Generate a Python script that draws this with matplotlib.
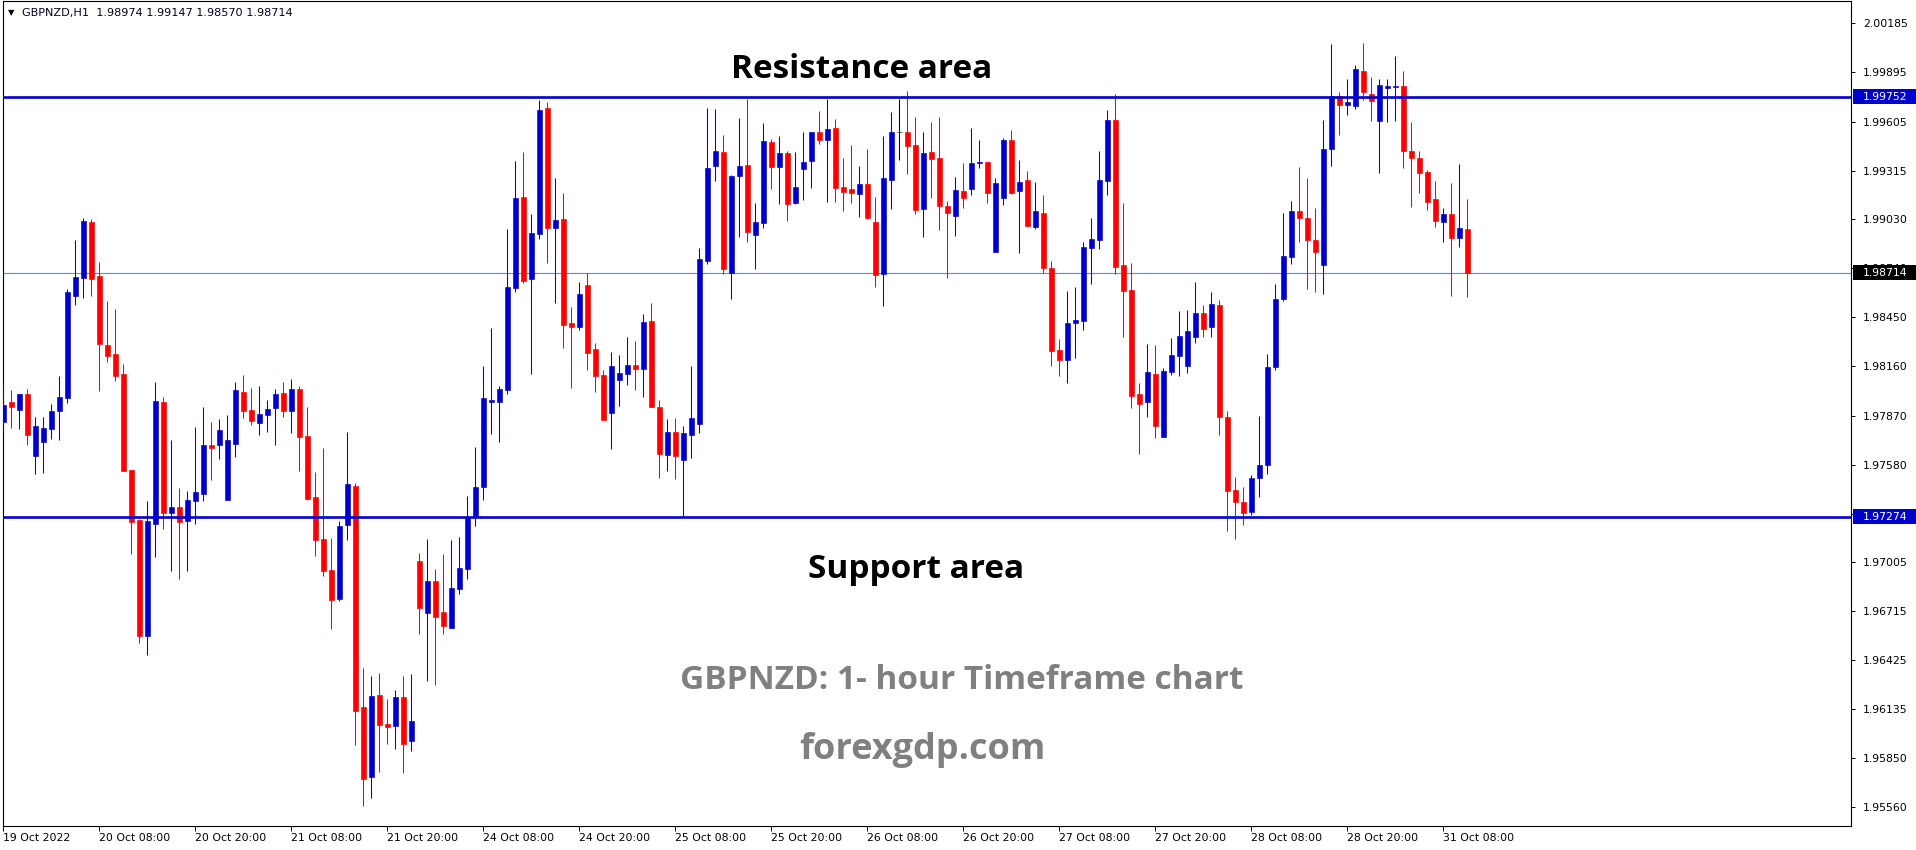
import matplotlib
matplotlib.use("Agg")
import matplotlib.pyplot as plt
from matplotlib.patches import Rectangle
import numpy as np

# GBPNZD H1 candles, 19 Oct 2022 20:00 .. 31 Oct 2022 11:00 (weekend skipped)
opens = [
    1.97832, 1.97948, 1.97901, 1.97995, 1.97630, 1.97712, 1.97789, 1.97895, 1.97972, 1.98574,
    1.98680, 1.99010, 1.98692, 1.98284, 1.98231, 1.98113, 1.97547, 1.97252, 1.96568, 1.97228,
    1.97948, 1.97293, 1.97329, 1.97246, 1.97364, 1.97405, 1.97694, 1.97694, 1.97370, 1.97700,
    1.98007, 1.97901, 1.97824, 1.97872, 1.97913, 1.98001, 1.97895, 1.98025, 1.97748, 1.97388,
    1.97140, 1.96957, 1.96786, 1.97223, 1.97453, 1.96149, 1.95736, 1.96220, 1.96049, 1.96037,
    1.96208, 1.95948, 1.97010, 1.96703, 1.96892, 1.96709, 1.96615, 1.96845, 1.96963, 1.97270,
    1.97447, 1.97948, 1.97948, 1.98019, 1.98621, 1.99158, 1.98674, 1.98939, 1.99683, 1.98975,
    1.99028, 1.98414, 1.98391, 1.98639, 1.98261, 1.98108, 1.97883, 1.98078, 1.98113, 1.98167,
    1.98143, 1.98426, 1.97919, 1.97635, 1.97771, 1.97606, 1.97754, 1.97818, 1.98780, 1.99341,
    1.99423, 1.98709, 1.99282, 1.99347, 1.98934, 1.99004, 1.99482, 1.99335, 1.99417, 1.99122,
    1.99323, 1.99370, 1.99541, 1.99494, 1.99565, 1.99217, 1.99205, 1.99175, 1.99234, 1.99010,
    1.98703, 1.99258, 1.99544, 1.99541, 1.99465, 1.99087, 1.99423, 1.99388, 1.99105, 1.99046,
    1.99193, 1.99205, 1.99358, 1.99364, 1.98833, 1.99152, 1.99494, 1.99193, 1.99258, 1.98981,
    1.99063, 1.98739, 1.98255, 1.98196, 1.98414, 1.98426, 1.98857, 1.98904, 1.99252, 1.99612,
    1.98757, 1.98609, 1.97995, 1.97948, 1.98113, 1.97742, 1.98125, 1.98220, 1.98161, 1.98332,
    1.98473, 1.98391, 1.98520, 1.97860, 1.97429, 1.97358, 1.97299, 1.97500, 1.97577, 1.98155,
    1.98556, 1.98804, 1.99075, 1.99034, 1.98904, 1.98757, 1.99441, 1.99754, 1.99706, 1.99700,
    1.99901, 1.99771, 1.99606, 1.99801, 1.99807, 1.99813, 1.99429, 1.99388, 1.99305, 1.99146,
    1.99010, 1.99057, 1.98916, 1.98974,
]
highs = [
    1.98049, 1.98019, 1.97995, 1.98025, 1.97860, 1.97860, 1.97936, 1.98102, 1.98615, 1.98904,
    1.99034, 1.99028, 1.98774, 1.98544, 1.98497, 1.98172, 1.97547, 1.97258, 1.97364, 1.98066,
    1.97978, 1.97724, 1.97441, 1.97423, 1.97801, 1.97919, 1.97830, 1.97848, 1.97872, 1.98066,
    1.98108, 1.98031, 1.98043, 1.97960, 1.98025, 1.98066, 1.98084, 1.98043, 1.97919, 1.97535,
    1.97677, 1.97146, 1.97246, 1.97771, 1.97470, 1.96379, 1.96332, 1.96349, 1.96196, 1.96249,
    1.96332, 1.96343, 1.97057, 1.97140, 1.96963, 1.97051, 1.97134, 1.97152, 1.97394, 1.97683,
    1.98161, 1.98385, 1.98043, 1.98969, 1.99370, 1.99423, 1.99057, 1.99730, 1.99718, 1.99270,
    1.99181, 1.98509, 1.98656, 1.98709, 1.98296, 1.98137, 1.98243, 1.98226, 1.98332, 1.98308,
    1.98467, 1.98532, 1.97960, 1.97848, 1.97854, 1.97807, 1.98161, 1.98857, 1.99683, 1.99677,
    1.99524, 1.99288, 1.99624, 1.99736, 1.99122, 1.99594, 1.99500, 1.99518, 1.99429, 1.99423,
    1.99541, 1.99541, 1.99665, 1.99736, 1.99618, 1.99388, 1.99465, 1.99341, 1.99441, 1.99158,
    1.99518, 1.99659, 1.99736, 1.99783, 1.99630, 1.99541, 1.99600, 1.99630, 1.99134, 1.99276,
    1.99358, 1.99565, 1.99494, 1.99364, 1.99270, 1.99506, 1.99553, 1.99376, 1.99311, 1.99246,
    1.99170, 1.98780, 1.98320, 1.98603, 1.98627, 1.98892, 1.99034, 1.99429, 1.99671, 1.99771,
    1.99122, 1.98768, 1.98060, 1.98290, 1.98284, 1.98149, 1.98326, 1.98485, 1.98491, 1.98656,
    1.98520, 1.98597, 1.98550, 1.97895, 1.97506, 1.97447, 1.97518, 1.97866, 1.98231, 1.98644,
    1.99063, 1.99134, 1.99335, 1.99270, 1.99093, 1.99612, 2.00066, 1.99777, 1.99854, 1.99942,
    2.00072, 1.99866, 1.99854, 1.99854, 1.99990, 1.99901, 1.99600, 1.99429, 1.99317, 1.99252,
    1.99093, 1.99240, 1.99352, 1.99147,
]
lows = [
    1.97779, 1.97795, 1.97789, 1.97694, 1.97523, 1.97529, 1.97730, 1.97724, 1.97942, 1.98520,
    1.98562, 1.98574, 1.98013, 1.98184, 1.98072, 1.97541, 1.97051, 1.96526, 1.96456, 1.97034,
    1.97199, 1.96951, 1.96904, 1.96951, 1.97228, 1.97364, 1.97488, 1.97612, 1.97370, 1.97624,
    1.97854, 1.97813, 1.97754, 1.97771, 1.97694, 1.97860, 1.97765, 1.97541, 1.97370, 1.97040,
    1.96922, 1.96609, 1.96774, 1.97134, 1.95925, 1.95565, 1.95612, 1.95765, 1.95930, 1.95901,
    1.95759, 1.95889, 1.96579, 1.96302, 1.96279, 1.96579, 1.96615, 1.96815, 1.96904, 1.97217,
    1.97370, 1.97759, 1.97712, 1.97995, 1.98597, 1.98650, 1.98113, 1.98910, 1.98768, 1.98532,
    1.98267, 1.98031, 1.98373, 1.98137, 1.98007, 1.97842, 1.97671, 1.97925, 1.98049, 1.98019,
    1.97978, 1.97919, 1.97500, 1.97541, 1.97494, 1.97276, 1.97618, 1.97765, 1.98762, 1.99252,
    1.98703, 1.98556, 1.98922, 1.98892, 1.98733, 1.98975, 1.99205, 1.99116, 1.99016, 1.99116,
    1.99140, 1.99211, 1.99470, 1.99128, 1.99128, 1.99075, 1.99122, 1.99040, 1.99028, 1.98627,
    1.98515, 1.99087, 1.99376, 1.99293, 1.99057, 1.98922, 1.99152, 1.98963, 1.98680, 1.98928,
    1.99093, 1.99170, 1.99329, 1.99122, 1.98833, 1.99110, 1.99175, 1.98827, 1.98987, 1.98969,
    1.98709, 1.98161, 1.98102, 1.98060, 1.98208, 1.98373, 1.98644, 1.98851, 1.99170, 1.98703,
    1.98332, 1.97913, 1.97641, 1.97860, 1.97736, 1.97742, 1.98108, 1.98102, 1.98119, 1.98296,
    1.98332, 1.98332, 1.97754, 1.97187, 1.97140, 1.97223, 1.97282, 1.97388, 1.97523, 1.98137,
    1.98544, 1.98762, 1.98892, 1.98615, 1.98597, 1.98585, 1.99341, 1.99524, 1.99647, 1.99677,
    1.99730, 1.99606, 1.99299, 1.99600, 1.99606, 1.99329, 1.99099, 1.99181, 1.99081, 1.98981,
    1.98892, 1.98574, 1.98863, 1.98570,
]
closes = [
    1.97931, 1.97920, 1.97995, 1.97754, 1.97807, 1.97795, 1.97895, 1.97978, 1.98597, 1.98686,
    1.99016, 1.98674, 1.98290, 1.98220, 1.98102, 1.97541, 1.97240, 1.96568, 1.97246, 1.97954,
    1.97293, 1.97329, 1.97240, 1.97370, 1.97417, 1.97694, 1.97677, 1.97783, 1.97724, 1.98019,
    1.97895, 1.97836, 1.97877, 1.97907, 1.97995, 1.97895, 1.98025, 1.97742, 1.97376, 1.97134,
    1.96951, 1.96780, 1.97217, 1.97464, 1.96125, 1.95724, 1.96214, 1.96043, 1.96031, 1.96208,
    1.95930, 1.96066, 1.96733, 1.96892, 1.96680, 1.96627, 1.96851, 1.96969, 1.97270, 1.97447,
    1.97972, 1.97960, 1.98025, 1.98627, 1.99152, 1.98662, 1.98945, 1.99671, 1.98975, 1.99022,
    1.98403, 1.98391, 1.98585, 1.98237, 1.98102, 1.97842, 1.98161, 1.98119, 1.98167, 1.98143,
    1.98420, 1.97919, 1.97641, 1.97771, 1.97630, 1.97765, 1.97854, 1.98792, 1.99329, 1.99429,
    1.98733, 1.99282, 1.99341, 1.98951, 1.99010, 1.99488, 1.99335, 1.99417, 1.99116, 1.99217,
    1.99364, 1.99541, 1.99494, 1.99559, 1.99211, 1.99187, 1.99181, 1.99234, 1.99034, 1.98698,
    1.99270, 1.99541, 1.99544, 1.99459, 1.99081, 1.99417, 1.99382, 1.99105, 1.99063, 1.99199,
    1.99152, 1.99358, 1.99364, 1.99181, 1.99240, 1.99494, 1.99181, 1.99246, 1.98987, 1.99075,
    1.98739, 1.98249, 1.98196, 1.98414, 1.98432, 1.98863, 1.98910, 1.99258, 1.99612, 1.98745,
    1.98603, 1.97984, 1.97936, 1.98125, 1.97807, 1.98131, 1.98226, 1.98338, 1.98367, 1.98473,
    1.98379, 1.98526, 1.97860, 1.97423, 1.97358, 1.97293, 1.97500, 1.97577, 1.98155, 1.98556,
    1.98810, 1.99075, 1.99034, 1.98904, 1.98833, 1.99441, 1.99754, 1.99706, 1.99718, 1.99913,
    1.99777, 1.99724, 1.99824, 1.99813, 1.99818, 1.99429, 1.99388, 1.99299, 1.99128, 1.99016,
    1.99057, 1.98916, 1.98975, 1.98714,
]

date_labels = [
    "19 Oct 2022", "20 Oct 08:00", "20 Oct 20:00", "21 Oct 08:00", "21 Oct 20:00",
    "24 Oct 08:00", "24 Oct 20:00", "25 Oct 08:00", "25 Oct 20:00", "26 Oct 08:00",
    "26 Oct 20:00", "27 Oct 08:00", "27 Oct 20:00", "28 Oct 08:00", "28 Oct 20:00",
    "31 Oct 08:00",
]
price_ticks = [2.00185, 1.99895, 1.99605, 1.99315, 1.99030, 1.98740, 1.98450, 1.98160,
               1.97870, 1.97580, 1.97290, 1.97005, 1.96715, 1.96425, 1.96135, 1.95850, 1.95560]

resistance = 1.99752
support = 1.97274

BULL = "#0000cd"
BEAR = "#ff0000"
GRAY_TXT = "#808080"

W, H = 1916, 850
fig = plt.figure(figsize=(W / 100, H / 100), dpi=100)
fig.patch.set_facecolor("white")
ax = fig.add_axes([2.7 / W, 24 / H, 1848.3 / W, 825.5 / H])

o = np.array(opens)
hi = np.array(highs)
lo = np.array(lows)
c = np.array(closes)
x = np.arange(len(o))
colors = np.where(c > o, BULL, np.where(c < o, BEAR, "black"))

# wicks then bodies
ax.vlines(x, lo, hi, colors=colors, linewidth=0.75, zorder=3)
ax.bar(x, np.abs(c - o), bottom=np.minimum(o, c), width=0.56,
       color=colors, edgecolor=colors, linewidth=0.45, zorder=3)

# current price line + support / resistance
ax.axhline(c[-1], color="#778899", linewidth=0.8, zorder=2)
ax.axhline(resistance, color=BULL, linewidth=1.9, zorder=4)
ax.axhline(support, color=BULL, linewidth=1.9, zorder=4)

ax.set_xlim(-0.075, 230.96)
ax.set_ylim(1.95447, 2.00320)

for s in ax.spines.values():
    s.set_color("black")
    s.set_linewidth(0.8)

ax.yaxis.tick_right()
ax.set_yticks(price_ticks)
ax.set_yticklabels([f"{p:.5f}" for p in price_ticks])
ax.tick_params(axis="y", direction="out", length=3, width=0.7, pad=5.5,
               labelsize=7.8, colors="black")

ax.set_xticks(range(0, 12 * len(date_labels), 12))
ax.set_xticklabels(date_labels, ha="left")
ax.tick_params(axis="x", direction="out", length=3.5, width=0.7, pad=1.5,
               labelsize=7.8, colors="black")

# price boxes on the right scale
ytr = ax.get_yaxis_transform()
hh = 7.5 * 0.000059
for price, fc in [(resistance, BULL), (c[-1], "black"), (support, BULL)]:
    ax.add_patch(Rectangle((1.0011, price - hh), 0.035, 2 * hh, transform=ytr,
                           facecolor=fc, edgecolor="none", clip_on=False, zorder=5))
    ax.text(1.0065, price, f"{price:.5f}", transform=ytr, ha="left", va="center",
            color="white", fontsize=7.8, clip_on=False, zorder=6)

# header
fig.text(8 / W, 1 - 12.7 / H, "\u25bc", fontsize=6, va="center", ha="left", color="black")
fig.text(21.7 / W, 1 - 12.7 / H,
         f"GBPNZD,H1  {o[-1]:.5f} {hi[-1]:.5f} {lo[-1]:.5f} {c[-1]:.5f}",
         fontsize=8.1, va="center", ha="left", color="#000020")


def label(txt, cx, base_y, color, size=24):
    fig.text(cx / W, 1 - base_y / H, txt, ha="center", va="baseline", color=color,
             fontsize=size, fontweight="bold", family="Open Sans")


label("Resistance area", 862, 78, "black")
label("Support area", 916, 578, "black")
label("GBPNZD: 1- hour Timeframe chart", 962, 689, GRAY_TXT)
label("forexgdp.com", 922, 759, GRAY_TXT, size=26)

fig.savefig("out.png", dpi=100, facecolor="white")
